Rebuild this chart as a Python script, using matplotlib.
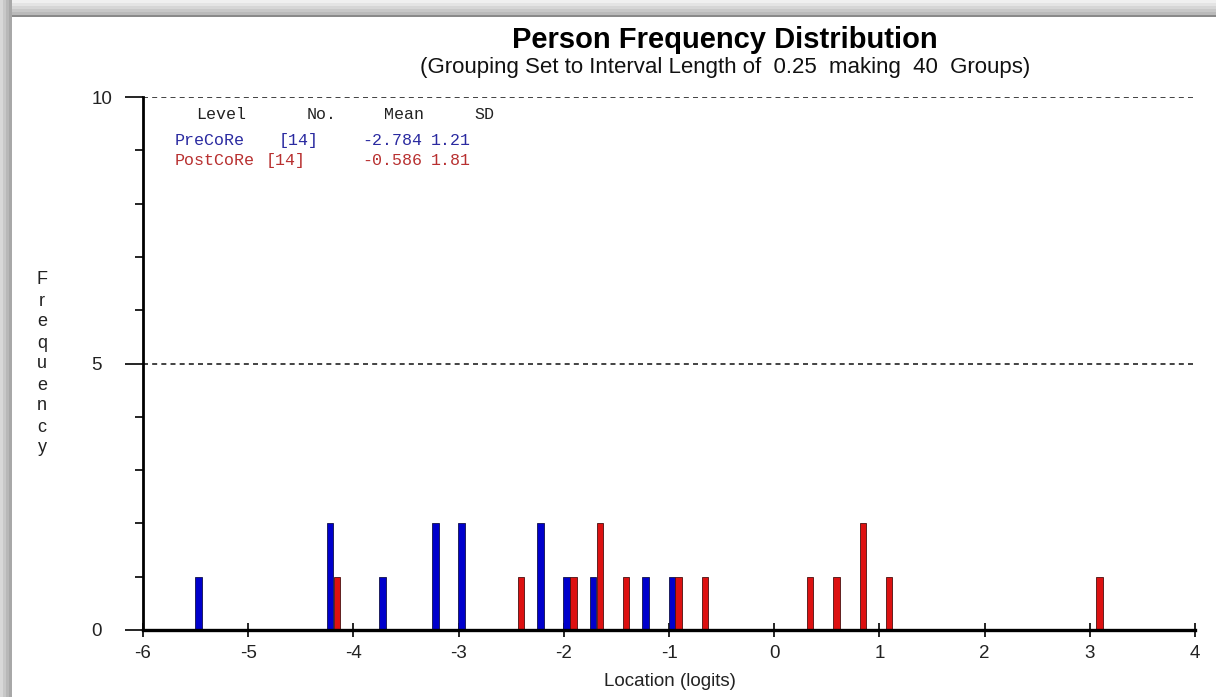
import numpy as np
import matplotlib
matplotlib.use("Agg")
import matplotlib.pyplot as plt
from matplotlib.patches import Rectangle

# group locations (logits) and counts
pre_loc = [-5.44, -4.19, -3.69, -3.19, -2.94, -2.19, -1.94, -1.69, -1.19, -0.94]
pre_cnt = [1, 2, 1, 2, 2, 2, 1, 1, 1, 1]
post_loc = [-4.19, -2.44, -1.94, -1.69, -1.44, -0.94, -0.69, 0.31, 0.56, 0.81, 1.06, 3.06]
post_cnt = [1, 1, 1, 2, 1, 1, 1, 1, 1, 2, 1, 1]

x_ticks = [-6, -5, -4, -3, -2, -1, 0, 1, 2, 3, 4]
y_ticks = [0, 5, 10]

legend_header = ["Level", "No.", "Mean", "SD"]
legend_rows = [
    ["PreCoRe", "[14]", "-2.784", "1.21"],
    ["PostCoRe", "[14]", "-0.586", "1.81"],
]

W, H = 1216, 697
plt.rcParams['font.family'] = ['Liberation Sans', 'DejaVu Sans']

fig = plt.figure(figsize=(W / 100, H / 100), dpi=100)
fig.patch.set_facecolor('white')

def fx(px):
    return px / W

def fy(py):
    return 1 - py / H

# window frame (grey border top and left)
for i, c in enumerate(['#f0f0f0', '#e4e4e4', '#d6d6d6', '#c8c8c8', '#bababa']):
    fig.patches.append(Rectangle((0, fy(3 * (i + 1))), 1, 3 / H, transform=fig.transFigure,
                                 facecolor=c, edgecolor='none', zorder=0))
fig.patches.append(Rectangle((0, fy(17)), 1, 2.5 / H, transform=fig.transFigure,
                             facecolor='#8a8a8a', edgecolor='none', zorder=1))
for i, c in enumerate(['#d8d8d8', '#c8c8c8', '#b8b8b8', '#a8a8a8']):
    fig.patches.append(Rectangle((fx(3 * i), 0), 3.3 / W, 1, transform=fig.transFigure,
                                 facecolor=c, edgecolor='none', zorder=1))

ax = fig.add_axes([fx(143), fy(630), fx(1195) - fx(143), fy(97) - fy(630)])
ax.set_xlim(-6, 4)
ax.set_ylim(0, 10)

w = 0.062
off = 0.032
ax.bar(np.array(pre_loc) - off, pre_cnt, width=w, color='#0000cc',
       edgecolor='#10104a', linewidth=0.6, zorder=3)
ax.bar(np.array(post_loc) + off, post_cnt, width=w, color='#dd1111',
       edgecolor='#4a1010', linewidth=0.6, zorder=3)

for yv in [5, 10]:
    ax.axhline(yv, color='#222222', linewidth=1.2, linestyle=(0, (3, 2.5)), zorder=1)

for s in ['top', 'right']:
    ax.spines[s].set_visible(False)
ax.spines['left'].set_linewidth(2.0)
ax.spines['bottom'].set_linewidth(2.4)
ax.spines['bottom'].set_zorder(4)

ax.set_xticks(x_ticks)
ax.set_xticklabels([str(v) for v in x_ticks])
ax.set_yticks(y_ticks)
ax.set_yticklabels([str(v) for v in y_ticks], ha='left')
ax.set_yticks(range(0, 11), minor=True)
ax.tick_params(axis='x', direction='inout', length=10, width=1.2, pad=6,
               labelsize=13.5, labelcolor='#222222')
ax.tick_params(axis='y', which='major', direction='out', length=13, width=1.2, pad=24,
               labelsize=13.5, labelcolor='#222222')
ax.tick_params(axis='y', which='minor', direction='out', length=6, width=1.2)

# titles
fig.text(fx(725), fy(40), "Person Frequency Distribution", ha='center', va='center',
         fontsize=21, fontweight='bold', color='black')
fig.text(fx(725), fy(68), "(Grouping Set to Interval Length of  0.25  making  40  Groups)",
         ha='center', va='center', fontsize=16, color='#111111')
fig.text(fx(670), fy(681), "Location (logits)", ha='center', va='center',
         fontsize=13.5, color='#222222')

# vertical stacked y label
for i, ch in enumerate("Frequency"):
    fig.text(fx(42), fy(280 + 21 * i), ch, ha='center', va='center',
             fontsize=13, color='#222222')

# legend table in monospace
mono = ['Liberation Mono', 'DejaVu Sans Mono']
head_x = [196, 307, 384, 474]
row_x = [[175, 279, 362, 431], [175, 266, 362, 431]]
for txt, px in zip(legend_header, head_x):
    fig.text(fx(px), fy(119), txt, ha='left', va='baseline', family=mono,
             fontsize=12, color='#222222')
for row, xs, col, py in zip(legend_rows, row_x, ['#2a2aa0', '#b83030'], [145, 165]):
    for txt, px in zip(row, xs):
        fig.text(fx(px), fy(py), txt, ha='left', va='baseline', family=mono,
                 fontsize=12, color=col)

fig.savefig("out.png", dpi=100)
